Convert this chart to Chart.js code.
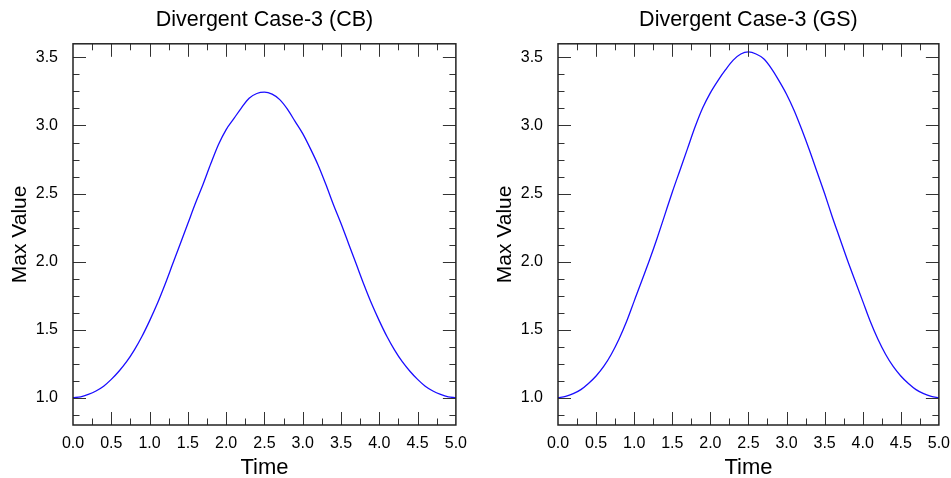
<!DOCTYPE html>
<html lang="en">
<head>
  <meta charset="UTF-8" />
  <title>Divergent Case-3</title>
  <script src="https://cdn.jsdelivr.net/npm/chart.js"></script>
  <style>
    html, body {
      margin: 0;
      padding: 0;
      background: #fff;
      overflow: hidden;
    }
    #wrap {
      position: relative;
      width: 951px;
      height: 478px;
      overflow: hidden;
    }
    canvas {
      position: absolute;
      top: 0;
    }
    #cbChart { left: 0; }
    #gsChart { left: 485px; }
  </style>
</head>
<body>
  <div id="wrap">
    <canvas id="cbChart" width="476" height="478"></canvas>
    <canvas id="gsChart" width="474" height="478"></canvas>
  </div>

  <script>
    const times = [0.0, 0.1, 0.2, 0.3, 0.4, 0.5, 0.6, 0.7, 0.8, 0.9,
                   1.0, 1.1, 1.2, 1.3, 1.4, 1.5, 1.6, 1.7, 1.8, 1.9,
                   2.0, 2.1, 2.2, 2.3, 2.4, 2.5, 2.6, 2.7, 2.8, 2.9,
                   3.0, 3.1, 3.2, 3.3, 3.4, 3.5, 3.6, 3.7, 3.8, 3.9,
                   4.0, 4.1, 4.2, 4.3, 4.4, 4.5, 4.6, 4.7, 4.8, 4.9, 5.0];

    const cbValues = [1.00, 1.007, 1.025, 1.05, 1.085, 1.135, 1.195, 1.265, 1.35, 1.45,
                      1.565, 1.69, 1.83, 1.98, 2.13, 2.28, 2.43, 2.57, 2.72, 2.86,
                      2.97, 3.05, 3.13, 3.20, 3.235, 3.245, 3.23, 3.19, 3.12, 3.03,
                      2.94, 2.83, 2.71, 2.57, 2.42, 2.28, 2.13, 1.98, 1.83, 1.69,
                      1.565, 1.45, 1.35, 1.265, 1.195, 1.135, 1.085, 1.05, 1.025, 1.007, 1.00];

    const gsValues = [1.00, 1.01, 1.03, 1.06, 1.105, 1.16, 1.23, 1.32, 1.43, 1.56,
                      1.71, 1.86, 2.01, 2.17, 2.34, 2.51, 2.67, 2.83, 2.99, 3.13,
                      3.24, 3.33, 3.41, 3.48, 3.525, 3.54, 3.525, 3.49, 3.42, 3.33,
                      3.23, 3.11, 2.97, 2.82, 2.66, 2.50, 2.33, 2.17, 2.01, 1.86,
                      1.71, 1.56, 1.43, 1.32, 1.23, 1.16, 1.105, 1.06, 1.03, 1.01, 1.00];

    // tick positions (labels only on multiples of 0.5)
    const xTickValues = [0, 0.25, 0.5, 0.75, 1.0, 1.25, 1.5, 1.75, 2.0, 2.25, 2.5,
                         2.75, 3.0, 3.25, 3.5, 3.75, 4.0, 4.25, 4.5, 4.75, 5.0];
    const yTickValues = [0.875, 1.0, 1.125, 1.25, 1.375, 1.5, 1.625, 1.75, 1.875,
                         2.0, 2.125, 2.25, 2.375, 2.5, 2.625, 2.75, 2.875,
                         3.0, 3.125, 3.25, 3.375, 3.5];

    const FONT = "'Liberation Sans', Arial, Helvetica, sans-serif";

    const isMajor = v => Math.abs(v * 2 - Math.round(v * 2)) < 1e-6;

    // NCL style frame with inward ticks on all four sides
    const frameTicks = {
      id: 'frameTicks',
      afterDatasetsDraw(chart) {
        const { ctx, chartArea: a } = chart;
        const xs = chart.scales.x, ys = chart.scales.y;
        ctx.save();
        ctx.strokeStyle = '#333';
        ctx.lineWidth = 1;
        ctx.beginPath();
        xs.ticks.forEach(t => {
          if (t.value <= xs.min || t.value >= xs.max) return;
          const px = Math.round(xs.getPixelForValue(t.value)) + 0.5;
          const len = isMajor(t.value) ? 13 : 6.5;
          ctx.moveTo(px, a.bottom); ctx.lineTo(px, a.bottom - len);
          ctx.moveTo(px, a.top); ctx.lineTo(px, a.top + len);
        });
        ys.ticks.forEach(t => {
          if (t.value <= ys.min || t.value >= ys.max) return;
          const py = Math.round(ys.getPixelForValue(t.value)) + 0.5;
          const len = isMajor(t.value) ? 13 : 6.5;
          ctx.moveTo(a.left, py); ctx.lineTo(a.left + len, py);
          ctx.moveTo(a.right, py); ctx.lineTo(a.right - len, py);
        });
        ctx.stroke();
        ctx.strokeStyle = '#222';
        ctx.lineWidth = 1.5;
        ctx.strokeRect(a.left, a.top, a.right - a.left, a.bottom - a.top);
        ctx.restore();
      }
    };

    function makeChart(id, title, values) {
      const ctx = document.getElementById(id).getContext('2d');
      return new Chart(ctx, {
        type: 'line',
        data: {
          datasets: [{
            data: times.map((t, i) => ({ x: t, y: values[i] })),
            borderColor: '#1a0dff',
            borderWidth: 1.3,
            pointRadius: 0,
            fill: false,
            cubicInterpolationMode: 'monotone'
          }]
        },
        options: {
          responsive: false,
          animation: false,
          devicePixelRatio: 1,
          layout: { padding: { left: 0, right: 5, top: 0, bottom: 0 } },
          plugins: {
            legend: { display: false },
            tooltip: { enabled: false },
            title: {
              display: true,
              text: title,
              fullSize: false,
              color: '#000',
              font: { family: FONT, size: 21.5, weight: 'normal', lineHeight: 1.2 },
              padding: { top: 7, bottom: 11 }
            }
          },
          scales: {
            x: {
              type: 'linear',
              min: 0,
              max: 5,
              afterBuildTicks: s => { s.ticks = xTickValues.map(v => ({ value: v })); },
              afterFit: s => { s.height = 53; },
              grid: { display: false, drawTicks: false },
              border: { display: false },
              ticks: {
                autoSkip: false,
                maxRotation: 0,
                padding: 9,
                color: '#000',
                font: { family: FONT, size: 16 },
                callback: v => isMajor(v) ? v.toFixed(1) : ''
              },
              title: {
                display: true,
                text: 'Time',
                color: '#000',
                font: { family: FONT, size: 22, lineHeight: 1.0 },
                padding: { top: 0, bottom: -1 }
              }
            },
            y: {
              min: 0.8,
              max: 3.6,
              afterBuildTicks: s => { s.ticks = yTickValues.map(v => ({ value: v })); },
              afterFit: s => { s.width = 73; },
              grid: { display: false, drawTicks: false },
              border: { display: false },
              ticks: {
                autoSkip: false,
                padding: 15,
                color: '#000',
                font: { family: FONT, size: 16 },
                callback: v => isMajor(v) ? v.toFixed(1) : ''
              },
              title: {
                display: true,
                text: 'Max Value',
                color: '#000',
                font: { family: FONT, size: 21, lineHeight: 1.2 },
                padding: { top: 8, bottom: 0 }
              }
            }
          }
        },
        plugins: [frameTicks]
      });
    }

    makeChart('cbChart', 'Divergent Case-3 (CB)', cbValues);
    makeChart('gsChart', 'Divergent Case-3 (GS)', gsValues);
  </script>
</body>
</html>
